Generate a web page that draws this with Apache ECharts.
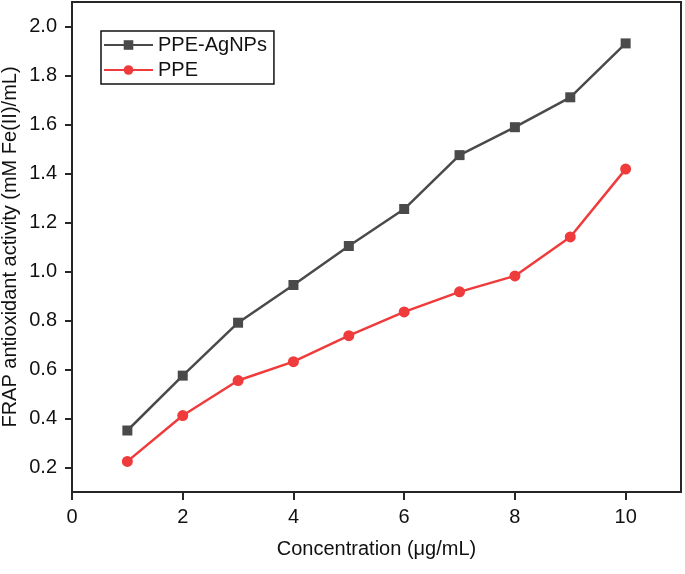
<!DOCTYPE html>
<html><head><meta charset="utf-8">
<script src="https://cdn.jsdelivr.net/npm/echarts@6/dist/echarts.min.js"></script>
<style>html,body{margin:0;padding:0;background:#fff}#c{width:685px;height:574px}</style>
</head><body><div id="c"></div>
<script>
const concentrations = [1, 2, 3, 4, 5, 6, 7, 8, 9, 10];
const agnpsValues = [0.351, 0.575, 0.791, 0.945, 1.104, 1.255, 1.475, 1.589, 1.711, 1.931];
const ppeValues = [0.225, 0.412, 0.555, 0.632, 0.738, 0.835, 0.917, 0.982, 1.141, 1.418];
const seriesNames = ['PPE-AgNPs', 'PPE'];
const xTicks = [0, 2, 4, 6, 8, 10];
const yTicks = [0.2, 0.4, 0.6, 0.8, 1.0, 1.2, 1.4, 1.6, 1.8, 2.0];

const font = 'Liberation Sans, Arial, sans-serif';
const axisColor = '#262626';
const chart = echarts.init(document.getElementById('c'));
chart.setOption({
  animation: false,
  backgroundColor: '#fff',
  grid: { left: 72, right: 4, top: 2, bottom: 82, containLabel: false, outerBoundsMode: 'none',
    show: true, borderColor: axisColor, borderWidth: 2 },
  legend: {
    left: 101, top: 31, orient: 'vertical', itemGap: 5, itemWidth: 49, itemHeight: 12,
    padding: [4, 7, 4, 2],
    borderColor: '#111', borderWidth: 1.5,
    textStyle: { fontFamily: font, fontSize: 20, color: '#111' },
    data: seriesNames
  },
  xAxis: {
    type: 'value', min: 0, max: 11,
    name: 'Concentration (μg/mL)', nameLocation: 'middle', nameGap: 47, nameMoveOverlap: false,
    nameTextStyle: { fontFamily: font, fontSize: 20, color: '#111' },
    axisLine: { lineStyle: { color: axisColor, width: 2 } },
    axisTick: { inside: false, length: 8, lineStyle: { color: axisColor, width: 2 }, customValues: xTicks },
    axisLabel: { fontFamily: font, fontSize: 20, color: '#111', margin: 15, customValues: xTicks,
      formatter: v => String(v) },
    splitLine: { show: false }
  },
  yAxis: {
    type: 'value', min: 0.1, max: 2.1,
    name: 'FRAP antioxidant activity (mM Fe(II)/mL)', nameLocation: 'middle', nameGap: 52, nameMoveOverlap: false,
    nameTextStyle: { fontFamily: font, fontSize: 20, color: '#111' },
    axisLine: { lineStyle: { color: axisColor, width: 2 } },
    axisTick: { inside: false, length: 7, lineStyle: { color: axisColor, width: 2 }, customValues: yTicks },
    axisLabel: { fontFamily: font, fontSize: 20, color: '#111', margin: 15, customValues: yTicks,
      formatter: v => v.toFixed(1) },
    splitLine: { show: false }
  },
  series: [
    {
      name: seriesNames[0], type: 'line',
      data: concentrations.map((c, i) => [c, agnpsValues[i]]),
      symbol: 'rect', symbolSize: 10,
      itemStyle: { color: '#4a4a4a' },
      lineStyle: { color: '#4a4a4a', width: 2.5 }
    },
    {
      name: seriesNames[1], type: 'line',
      data: concentrations.map((c, i) => [c, ppeValues[i]]),
      symbol: 'circle', symbolSize: 11,
      itemStyle: { color: '#ef3b3b' },
      lineStyle: { color: '#ef3b3b', width: 2.5 }
    }
  ]
});
</script></body></html>
